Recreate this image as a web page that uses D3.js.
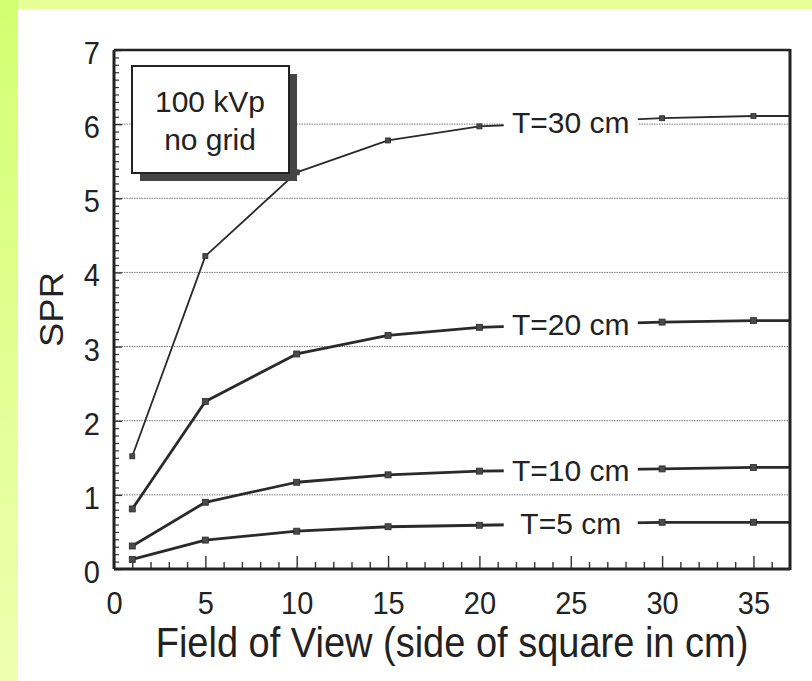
<!DOCTYPE html>
<html><head><meta charset="utf-8">
<script src="https://cdn.jsdelivr.net/npm/d3@7"></script>
<style>html,body{margin:0;padding:0;background:#fff;overflow:hidden} svg{display:block}</style>
</head><body>
<svg id="c" width="812" height="681"></svg>
<script>
// ---- data ----
const fov = [1, 5, 10, 15, 20, 30, 35];
const spr30 = [1.52, 4.22, 5.35, 5.78, 5.97, 6.08, 6.11];
const spr20 = [0.81, 2.26, 2.90, 3.15, 3.26, 3.33, 3.35];
const spr10 = [0.31, 0.90, 1.17, 1.27, 1.32, 1.35, 1.37];
const spr5  = [0.13, 0.39, 0.51, 0.57, 0.59, 0.63, 0.63];
const seriesNames = ["T=30 cm", "T=20 cm", "T=10 cm", "T=5 cm"];
const xTickValues = [0, 5, 10, 15, 20, 25, 30, 35];
const yTickValues = [0, 1, 2, 3, 4, 5, 6, 7];
const noteLines = ["100 kVp", "no grid"];
const labelAtX = 25;
const xTitle = "Field of View (side of square in cm)";
const yTitle = "SPR";

const seriesValues = [spr30, spr20, spr10, spr5];
const series = seriesNames.map((n, i) => ({
  name: n,
  pts: fov.map((f, j) => ({x: f, y: seriesValues[i][j]})),
  thin: i === 0
}));

// ---- layout ----
const svg = d3.select("#c");
const FONT = "'Liberation Sans', Arial, sans-serif";
const L = 114, R = 790, T = 50, B = 569;
const x = d3.scaleLinear().domain([0, 37]).range([L, R]);
const y = d3.scaleLinear().domain([0, 7]).range([B, T]);

// background bands
const defs = svg.append("defs");
const gr = defs.append("linearGradient").attr("id", "lg").attr("x1", 0).attr("y1", 0).attr("x2", 0).attr("y2", 1);
gr.append("stop").attr("offset", "0%").attr("stop-color", "#d3ff72");
gr.append("stop").attr("offset", "100%").attr("stop-color", "#eeffb0");
svg.append("rect").attr("x", 0).attr("y", 0).attr("width", 812).attr("height", 681).attr("fill", "#fff");
svg.append("rect").attr("x", 0).attr("y", 0).attr("width", 812).attr("height", 9).attr("fill", "#e6ff96");
svg.append("rect").attr("x", 0).attr("y", 0).attr("width", 18).attr("height", 681).attr("fill", "url(#lg)");

// gridlines
svg.append("g").selectAll("line").data(yTickValues.filter(v => v > 0 && v < 7)).join("line")
  .attr("x1", L).attr("x2", R).attr("y1", d => y(d)).attr("y2", d => y(d))
  .attr("stroke", "#777").attr("stroke-width", 1).attr("stroke-dasharray", "1.5,1");

// minor ticks
const yMinor = d3.range(1, 70).map(v => v / 10).filter(v => Math.abs(v - Math.round(v)) > 1e-6);
const xMinor = d3.range(1, 37).filter(v => v % 5 !== 0);
svg.append("g").attr("transform", `translate(${L},0)`)
  .call(d3.axisLeft(y).tickValues(yMinor).tickSize(-5).tickFormat(""))
  .call(g => g.select(".domain").remove())
  .call(g => g.selectAll("line").attr("stroke", "#333").attr("stroke-width", 1.2));
svg.append("g").attr("transform", `translate(0,${B})`)
  .call(d3.axisBottom(x).tickValues(xMinor).tickSize(-7).tickFormat(""))
  .call(g => g.select(".domain").remove())
  .call(g => g.selectAll("line").attr("stroke", "#333").attr("stroke-width", 1.4));

// major axes
svg.append("g").attr("transform", `translate(${L},0)`)
  .call(d3.axisLeft(y).tickValues(yTickValues).tickSize(-8).tickFormat(d3.format("d")))
  .call(g => g.select(".domain").remove())
  .call(g => g.selectAll("line").attr("stroke", "#333").attr("stroke-width", 1.4))
  .call(g => g.selectAll("text").attr("font-family", FONT).attr("font-size", 29).attr("fill", "#222")
    .attr("text-anchor", "end").attr("x", -14).attr("dy", 0).attr("y", 13.5 / 1.06)
    .attr("transform", "scale(1,1.06)"));
svg.append("g").attr("transform", `translate(0,${B})`)
  .call(d3.axisBottom(x).tickValues(xTickValues).tickSize(-13).tickFormat(d3.format("d")))
  .call(g => g.select(".domain").remove())
  .call(g => g.selectAll("line").attr("stroke", "#333").attr("stroke-width", 1.4))
  .call(g => g.selectAll("text").attr("font-family", FONT).attr("font-size", 29).attr("fill", "#222")
    .attr("text-anchor", "middle").attr("dy", 0).attr("y", 45 / 1.1)
    .attr("transform", "scale(1,1.1)"));

// series lines (extended flat to the right frame)
const line = d3.line().x(d => x(d.x)).y(d => y(d.y));
series.forEach(s => {
  const last = s.pts[s.pts.length - 1];
  const ext = s.pts.concat([{x: x.domain()[1], y: last.y}]);
  svg.append("path").attr("d", line(ext)).attr("fill", "none")
    .attr("stroke", "#2a2a2a").attr("stroke-width", s.thin ? 1.8 : 2.8).attr("stroke-linejoin", "round");
  const m = s.thin ? 5 : 6;
  svg.append("g").selectAll("rect").data(s.pts).join("rect")
    .attr("x", d => x(d.x) - m / 2).attr("y", d => y(d.y) - m / 2)
    .attr("width", m).attr("height", m).attr("fill", "#4a4a4a").attr("stroke", "#2a2a2a").attr("stroke-width", 0.8);
});

// frame (drawn on top)
svg.append("line").attr("x1", L).attr("x2", R).attr("y1", T).attr("y2", T).attr("stroke", "#222").attr("stroke-width", 2.5);
svg.append("line").attr("x1", L).attr("x2", R).attr("y1", B).attr("y2", B).attr("stroke", "#222").attr("stroke-width", 3);
svg.append("line").attr("x1", L).attr("x2", L).attr("y1", T).attr("y2", B).attr("stroke", "#222").attr("stroke-width", 3);
svg.append("line").attr("x1", R).attr("x2", R).attr("y1", T - 1).attr("y2", B + 1).attr("stroke", "#222").attr("stroke-width", 3);

// series labels at x = 25, on the line
series.forEach(s => {
  const xs = s.pts.map(p => p.x), ys = s.pts.map(p => p.y);
  const i = d3.bisectLeft(xs, labelAtX);
  const t = (labelAtX - xs[i - 1]) / (xs[i] - xs[i - 1]);
  const yv = ys[i - 1] + t * (ys[i] - ys[i - 1]);
  const cx = x(labelAtX), cy = y(yv);
  svg.append("rect").attr("x", cx - 67).attr("y", cy - 14).attr("width", 134).attr("height", 28).attr("fill", "#fff");
  svg.append("text").attr("x", cx).attr("y", cy + 10.7).attr("text-anchor", "middle")
    .attr("font-family", FONT).attr("font-size", 30).attr("fill", "#222").text(s.name);
});

// note box with shadow
svg.append("rect").attr("x", 140).attr("y", 74).attr("width", 157).attr("height", 107).attr("fill", "#444");
svg.append("rect").attr("x", 132).attr("y", 66).attr("width", 157).attr("height", 107)
  .attr("fill", "#fff").attr("stroke", "#222").attr("stroke-width", 2);
svg.append("g").selectAll("text").data(noteLines).join("text")
  .attr("x", 210).attr("y", (d, i) => 112 + i * 38).attr("text-anchor", "middle")
  .attr("font-family", FONT).attr("font-size", 30).attr("fill", "#222").text(d => d);

// axis titles
svg.append("text").attr("text-anchor", "middle").attr("font-family", FONT).attr("font-size", 38).attr("fill", "#222")
  .attr("transform", `translate(${(L + R) / 2},657) scale(1,1.1)`).text(xTitle);
svg.append("text").attr("text-anchor", "middle").attr("font-family", FONT).attr("font-size", 32.5).attr("fill", "#222")
  .attr("transform", `translate(63,${(T + B) / 2}) scale(1,1.12) rotate(-90)`).text(yTitle);
</script>
</body></html>
